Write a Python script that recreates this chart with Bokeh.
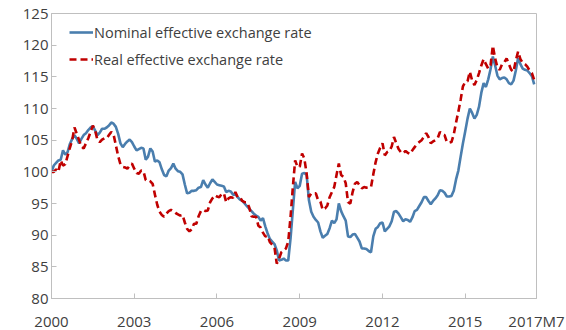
from bokeh.plotting import figure
from bokeh.models import Range1d, FixedTicker, Legend, LegendItem
from bokeh.embed import file_html
from bokeh.resources import INLINE

# Monthly index values, 2000M1 .. 2017M7 (2000M1 = 100)
nominal = [
    # 2000
    100.0, 101.0, 101.4, 101.8, 101.9, 103.4, 102.7, 103.1, 104.4, 105.2, 105.8, 105.2,
    # 2001
    104.5, 105.2, 105.8, 106.1, 106.6, 107.0, 107.2, 106.5, 105.8, 106.2, 106.8, 106.8,
    # 2002
    107.0, 107.3, 107.8, 107.6, 107.1, 106.0, 104.5, 103.9, 104.4, 104.8, 105.1, 104.7,
    # 2003
    104.0, 103.4, 103.6, 103.8, 103.7, 101.9, 102.4, 103.7, 103.2, 101.6, 101.8, 101.5,
    # 2004
    100.4, 99.5, 99.3, 100.2, 100.6, 101.3, 100.5, 100.1, 100.0, 99.6, 98.0, 96.6,
    # 2005
    96.7, 97.0, 97.0, 97.1, 97.5, 97.6, 98.7, 98.0, 97.5, 98.2, 98.8, 98.4,
    # 2006
    98.0, 97.9, 97.8, 97.7, 96.8, 97.0, 96.9, 96.4, 96.5, 96.0, 95.6, 95.4,
    # 2007
    95.0, 94.6, 94.2, 93.8, 93.4, 93.1, 92.9, 92.3, 92.7, 91.4, 90.3, 89.4,
    # 2008
    89.0, 88.6, 87.6, 86.0, 86.1, 86.3, 86.0, 86.0, 89.5, 94.0, 98.4, 97.4,
    # 2009
    97.8, 99.7, 99.8, 99.5, 95.5, 93.7, 92.9, 92.4, 92.0, 90.6, 89.6, 89.9,
    # 2010
    90.2, 91.1, 92.3, 91.9, 92.5, 95.0, 93.8, 93.0, 92.3, 89.8, 89.7, 90.1,
    # 2011
    90.2, 89.6, 89.0, 87.9, 87.9, 87.8, 87.5, 87.3, 89.8, 91.0, 91.3, 91.9,
    # 2012
    92.0, 90.6, 91.0, 91.4, 92.2, 93.7, 93.8, 93.4, 92.8, 92.2, 92.5, 92.4,
    # 2013
    92.1, 92.8, 93.8, 94.0, 94.6, 95.2, 96.0, 96.0, 95.4, 94.9, 95.4, 95.8,
    # 2014
    96.3, 97.1, 97.0, 96.7, 96.1, 96.1, 96.2, 97.0, 98.8, 100.2, 102.4, 104.5,
    # 2015
    106.4, 108.4, 110.0, 109.3, 108.4, 109.0, 110.3, 112.5, 114.0, 113.4, 114.6, 116.2,
    # 2016
    118.2, 116.8, 115.2, 114.6, 114.8, 114.9, 114.6, 114.0, 113.8, 114.4, 116.0, 118.0,
    # 2017 (to July)
    117.0, 116.3, 116.1, 116.0, 115.6, 115.1, 113.8,
]

real = [
    # 2000
    100.0, 100.0, 100.4, 100.0, 101.8, 101.0, 101.2, 102.5, 103.8, 105.0, 107.0, 106.0,
    # 2001
    105.0, 104.0, 103.7, 104.5, 105.3, 106.3, 107.3, 106.5, 105.0, 104.7, 105.1, 105.3,
    # 2002
    105.3, 105.8, 106.3, 105.9, 104.2, 102.5, 101.2, 100.8, 100.7, 100.5, 101.0, 101.3,
    # 2003
    100.5, 99.8, 99.7, 100.2, 100.1, 98.7, 98.7, 98.5, 98.1, 96.4, 94.8, 93.7,
    # 2004
    93.2, 92.9, 93.4, 93.8, 94.0, 93.8, 93.5, 93.3, 93.1, 93.2, 92.0, 91.0,
    # 2005
    90.6, 90.9, 91.8, 91.8, 93.0, 93.8, 94.0, 93.8, 93.9, 95.2, 95.8, 96.3,
    # 2006
    96.1, 96.0, 96.5, 96.6, 95.2, 95.8, 96.0, 95.9, 96.8, 96.0, 96.0, 95.4,
    # 2007
    95.2, 95.2, 94.4, 93.0, 92.9, 92.9, 91.5, 91.2, 90.4, 89.8, 89.9, 88.9,
    # 2008
    88.5, 88.1, 85.5, 86.3, 87.3, 87.6, 87.9, 89.0, 92.9, 97.6, 101.8, 100.8,
    # 2009
    100.8, 102.9, 102.1, 99.7, 96.0, 96.6, 96.6, 96.6, 95.5, 95.3, 94.0, 94.2,
    # 2010
    94.7, 96.0, 96.8, 97.6, 99.5, 101.3, 99.5, 99.2, 98.2, 95.2, 95.0, 96.8,
    # 2011
    98.1, 98.4, 97.9, 97.4, 97.6, 97.5, 97.6, 97.6, 99.6, 101.5, 102.9, 103.8,
    # 2012
    104.5, 102.6, 103.1, 103.3, 104.0, 105.5, 104.5, 103.6, 103.1, 102.9, 103.3, 103.0,
    # 2013
    102.8, 103.4, 103.9, 104.4, 104.7, 105.0, 105.5, 106.1, 105.5, 104.5, 104.8, 105.0,
    # 2014
    105.3, 106.3, 105.9, 105.8, 104.7, 104.6, 104.7, 105.9, 107.8, 109.5, 111.4, 113.5,
    # 2015
    114.2, 114.3, 115.8, 114.4, 113.7, 114.5, 115.6, 116.8, 117.8, 117.0, 116.3, 116.8,
    # 2016
    119.9, 117.9, 116.5, 116.1, 117.0, 117.3, 117.9, 117.0, 116.1, 115.8, 117.6, 119.0,
    # 2017 (to July)
    117.8, 117.2, 117.0, 116.6, 116.0, 115.6, 114.5,
]

tick_months = [0, 36, 72, 108, 144, 180, 211]
tick_labels = ["2000", "2003", "2006", "2009", "2012", "2015", "2017M7"]
y_ticks = [80, 85, 90, 95, 100, 105, 110, 115, 120, 125]
series_names = ["Nominal effective exchange rate", "Real effective exchange rate"]

months = list(range(len(nominal)))

FONT = "Open Sans"
TEXT = "#404040"
GRAY = "#BFBFBF"

p = figure(frame_width=485, frame_height=285, output_backend="svg",
           toolbar_location=None, x_range=Range1d(0, 211), y_range=Range1d(80, 125),
           min_border_left=51, min_border_top=13, min_border_right=30, min_border_bottom=32)

p.xgrid.visible = False
p.ygrid.visible = False
p.outline_line_color = GRAY
p.outline_line_width = 1
p.background_fill_color = "white"
p.border_fill_color = "white"

r_nom = p.line(months, nominal, line_color="#4A7EAE", line_width=2.6)
r_real = p.line(months[:len(real)], real, line_color="#C00000", line_width=2.6,
                line_dash="7 4")

# axes
for ax in (p.xaxis[0], p.yaxis[0]):
    ax.axis_line_color = GRAY
    ax.major_tick_line_color = GRAY
    ax.minor_tick_line_color = None
    ax.major_tick_in = 5
    ax.major_tick_out = 0
    ax.major_label_text_font = FONT
    ax.major_label_text_font_size = "15px"
    ax.major_label_text_color = TEXT

p.xaxis.ticker = FixedTicker(ticks=tick_months)
p.xaxis.major_label_overrides = {m: l for m, l in zip(tick_months, tick_labels)}
p.xaxis.major_label_standoff = 12
p.yaxis.ticker = FixedTicker(ticks=y_ticks)
p.yaxis.major_label_standoff = 3

legend = Legend(items=[LegendItem(label=series_names[0], renderers=[r_nom]),
                       LegendItem(label=series_names[1], renderers=[r_real])],
                location=(18, 229))
legend.border_line_color = None
legend.background_fill_alpha = 0
legend.padding = 0
legend.margin = 0
legend.spacing = 7
legend.glyph_width = 24
legend.glyph_height = 20
legend.label_height = 20
legend.label_standoff = 1
legend.label_text_font = FONT
legend.label_text_font_size = "14.5px"
legend.label_text_color = TEXT
p.add_layout(legend)

open("out.html", "w").write(file_html(p, INLINE))
